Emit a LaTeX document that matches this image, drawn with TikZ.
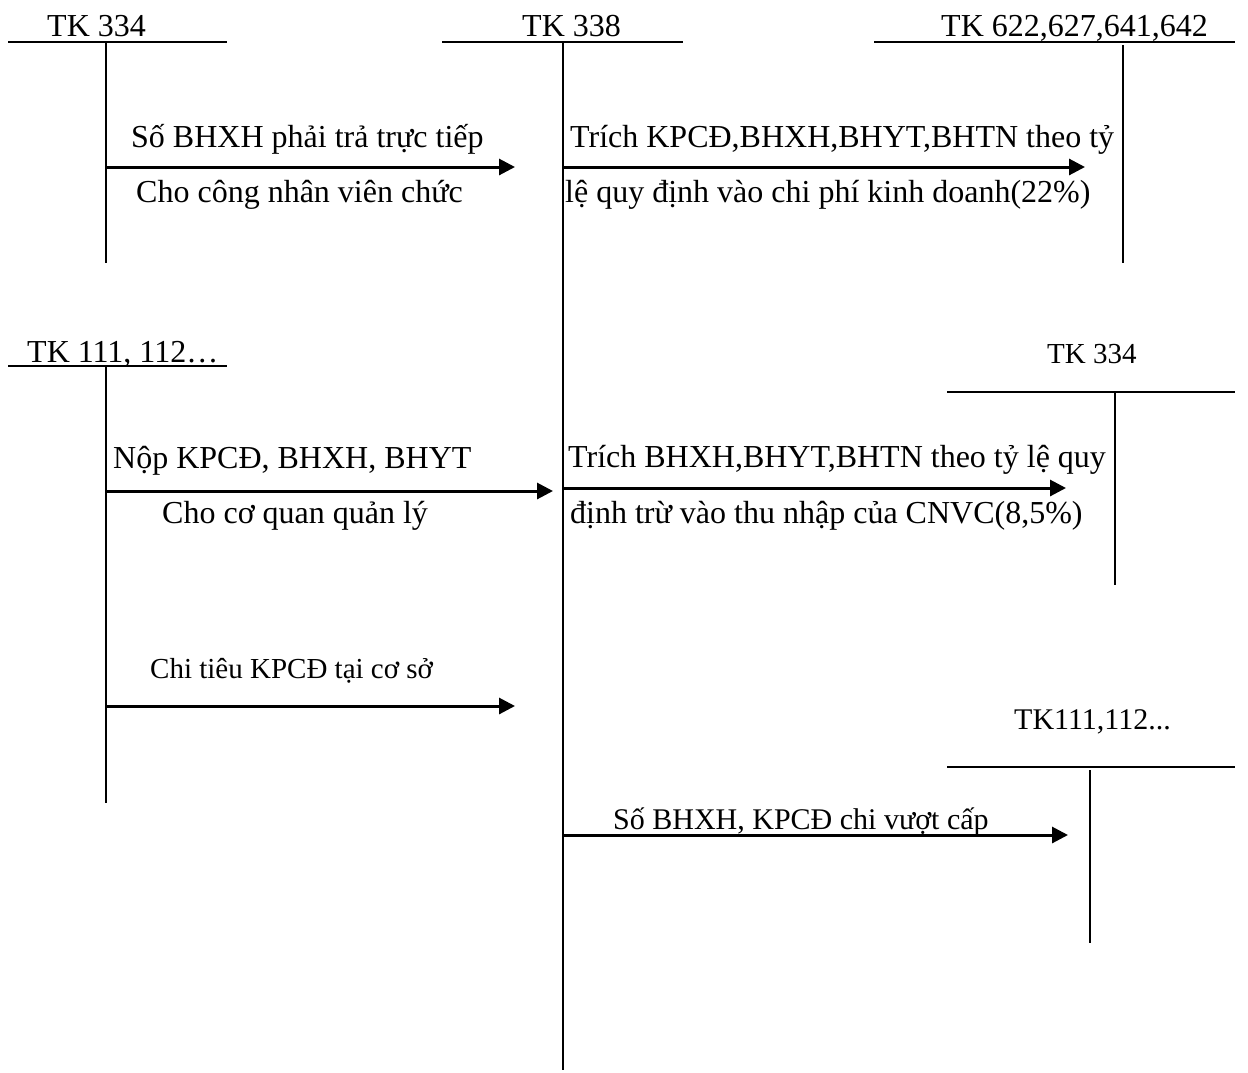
\documentclass[tikz,border=0pt]{standalone}
\usepackage{fontspec}
\setmainfont{Liberation Serif}
\usetikzlibrary{arrows.meta}
\begin{document}
\begin{tikzpicture}[x=1pt,y=-1pt,
  hline/.style={line width=2pt},
  vline/.style={line width=1.5pt},
  flow/.style={line width=3pt,-{Triangle[length=16pt,width=16pt]}},
  lbl/.style={anchor=base west,inner sep=0pt,font=\fontsize{32}{36}\selectfont},
  lblmd/.style={lbl,font=\fontsize{30}{34}\selectfont},
  lblsm/.style={lbl,font=\fontsize{29}{33}\selectfont}]
\useasboundingbox (0,0) rectangle (1248,1072);
% T-account coordinates
\coordinate (a1l) at (8,42);   \coordinate (a1r) at (227,42);
\coordinate (a1t) at (106,42); \coordinate (a1b) at (106,263);
\coordinate (a2l) at (442,42); \coordinate (a2r) at (683,42);
\coordinate (a2t) at (563,42); \coordinate (a2b) at (563,1070);
\coordinate (a3l) at (874,42); \coordinate (a3r) at (1235,42);
\coordinate (a3t) at (1123,45); \coordinate (a3b) at (1123,263);
\coordinate (a4l) at (8,366);  \coordinate (a4r) at (227,366);
\coordinate (a4t) at (106,366); \coordinate (a4b) at (106,803);
\coordinate (a5l) at (947,392); \coordinate (a5r) at (1235,392);
\coordinate (a5t) at (1115,392); \coordinate (a5b) at (1115,585);
\coordinate (a6l) at (947,767); \coordinate (a6r) at (1235,767);
\coordinate (a6t) at (1090,770); \coordinate (a6b) at (1090,943);
\foreach \i in {1,...,6}{
  \draw[hline] (a\i l) -- (a\i r);
  \draw[vline] (a\i t) -- (a\i b);
}
% account titles
\node[lbl] (t1) at (47,36) {TK 334};
\node[lbl] (t2) at (522,36) {TK 338};
\node[lbl] (t3) at (941,36) {TK 622,627,641,642};
\node[lbl] (t4) at (27,362) {TK 111, 112…};
\node[lblsm] (t5) at (1047,363) {TK 334};
\node[lblmd] (t6) at (1014,729) {TK111,112...};
% arrows
\coordinate (s1) at (106,167); \coordinate (e1) at (515,167);
\coordinate (s2) at (563,167); \coordinate (e2) at (1085,167);
\coordinate (s3) at (106,491); \coordinate (e3) at (553,491);
\coordinate (s4) at (563,488); \coordinate (e4) at (1066,488);
\coordinate (s5) at (106,706); \coordinate (e5) at (515,706);
\coordinate (s6) at (563,835); \coordinate (e6) at (1068,835);
\foreach \i in {1,...,6}{\draw[flow] (s\i) -- (e\i);}
% labels
\node[lbl] (l1a) at (131,147) {Số BHXH phải trả trực tiếp};
\node[lbl] (l1b) at (136,202) {Cho công nhân viên chức};
\node[lbl] (l2a) at (570,147) {Trích KPCĐ,BHXH,BHYT,BHTN theo tỷ};
\node[lbl] (l2b) at (565,202) {lệ quy định vào chi phí kinh doanh(22\%)};
\node[lbl] (l3a) at (113,468) {Nộp KPCĐ, BHXH, BHYT};
\node[lbl] (l3b) at (162,523) {Cho cơ quan quản lý};
\node[lbl] (l4a) at (568,467) {Trích BHXH,BHYT,BHTN theo tỷ lệ quy};
\node[lbl] (l4b) at (570,523) {định trừ vào thu nhập của CNVC(8,5\%)};
\node[lblsm] (l5a) at (150,678) {Chi tiêu KPCĐ tại cơ sở};
\node[lblmd] (l6a) at (613,829) {Số BHXH, KPCĐ chi vượt cấp};
\end{tikzpicture}
\end{document}
